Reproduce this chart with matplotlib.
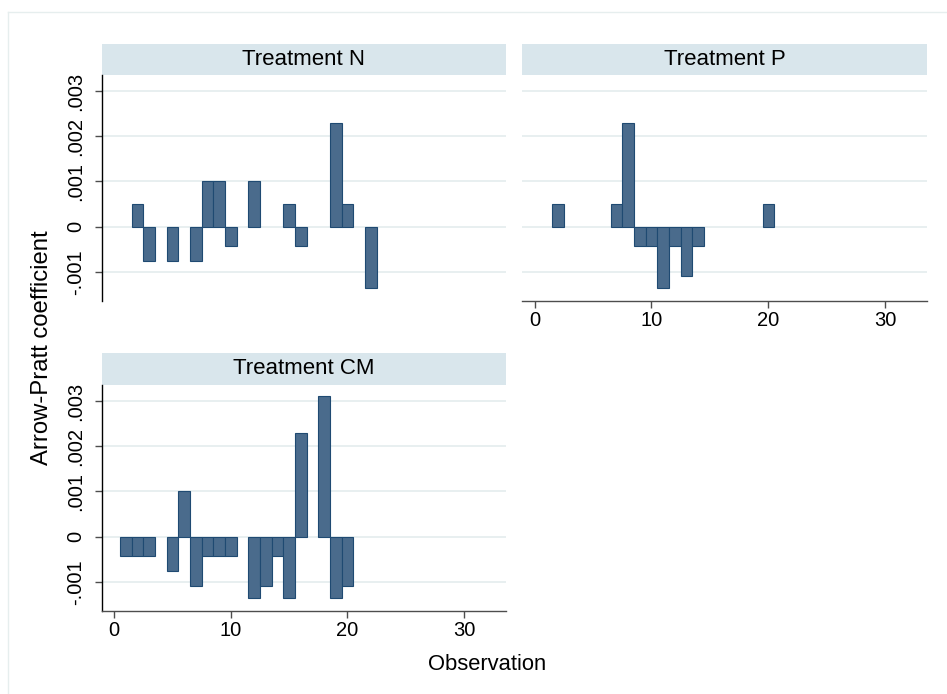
import matplotlib

matplotlib.use("Agg")
import matplotlib.pyplot as plt
from matplotlib.lines import Line2D

# observation index and Arrow-Pratt coefficient per treatment
obs_n = [2, 3, 5, 7, 8, 9, 10, 12, 15, 16, 19, 20, 22]
coef_n = [0.0005, -0.00077, -0.00077, -0.00077, 0.001, 0.001, -0.00042,
          0.001, 0.0005, -0.00042, 0.0023, 0.0005, -0.00136]

obs_p = [2, 7, 8, 9, 10, 11, 12, 13, 14, 20]
coef_p = [0.0005, 0.0005, 0.0023, -0.00042, -0.00042, -0.00136, -0.00042,
          -0.0011, -0.00042, 0.0005]

obs_cm = [1, 2, 3, 5, 6, 7, 8, 9, 10, 12, 13, 14, 15, 16, 18, 19, 20]
coef_cm = [-0.00042, -0.00042, -0.00042, -0.00077, 0.001, -0.0011, -0.00042,
           -0.00042, -0.00042, -0.00136, -0.0011, -0.00042, -0.00136, 0.0023,
           0.0031, -0.00136, -0.0011]

y_ticks = [-0.001, 0, 0.001, 0.002, 0.003]
y_tick_labels = ["-.001", "0", ".001", ".002", ".003"]
x_ticks = [0, 10, 20, 30]

W, H = 947, 694
BAR_COLOR = "#4a6b8c"
EDGE_COLOR = "#1f4a72"
GRID_COLOR = "#e6eeef"
STRIP_COLOR = "#d9e6ec"
AXIS_COLOR = "#4d4d4d"
TICK_SIZE = 14.5

plt.rcParams["font.family"] = ["Liberation Sans", "DejaVu Sans"]


def px_rect(left, top, right, bottom):
    return [left / W, 1 - bottom / H, (right - left) / W, (bottom - top) / H]


def panel(fig, left, top, right, bottom, strip_top, title, xs, ys, show_y, show_x):
    strip = fig.add_axes(px_rect(left, strip_top, right, top))
    strip.set_facecolor(STRIP_COLOR)
    strip.set_xticks([])
    strip.set_yticks([])
    for s in strip.spines.values():
        s.set_visible(False)
    strip.text(0.5, 0.5, title, ha="center", va="center", fontsize=16,
               transform=strip.transAxes)

    ax = fig.add_axes(px_rect(left, top, right, bottom))
    ax.set_xlim(-1.08, 33.6)
    ax.set_ylim(-0.00164, 0.00336)
    for yv in y_ticks:
        ax.axhline(yv, color=GRID_COLOR, lw=1.3, zorder=0)
    ax.bar(xs, ys, width=1.0, color=BAR_COLOR, edgecolor=EDGE_COLOR,
           linewidth=0.8, zorder=2)
    ax.spines["top"].set_visible(False)
    ax.spines["right"].set_visible(False)
    ax.spines["left"].set_visible(show_y)
    ax.spines["bottom"].set_visible(show_x)
    ax.spines["left"].set_color("black")
    ax.spines["bottom"].set_color(AXIS_COLOR)
    ax.spines["left"].set_linewidth(1.0)
    ax.spines["bottom"].set_linewidth(1.0)
    if show_y:
        ax.set_yticks(y_ticks)
        ax.set_yticklabels(y_tick_labels, rotation=90, va="center")
        ax.tick_params(axis="y", length=5, width=1, color=AXIS_COLOR,
                       labelsize=TICK_SIZE, pad=7)
    else:
        ax.set_yticks([])
    if show_x:
        ax.set_xticks(x_ticks)
        ax.tick_params(axis="x", length=5, width=1, color=AXIS_COLOR,
                       labelsize=TICK_SIZE, pad=2.5)
    else:
        ax.set_xticks([])
    return ax


fig = plt.figure(figsize=(W / 100, H / 100), dpi=100)
fig.patch.set_facecolor("white")

# faint outer frame
fig.add_artist(Line2D([8 / W, 8 / W], [0, 1 - 12 / H], color="#e6eeee", lw=1.0))
fig.add_artist(Line2D([8 / W, 1], [1 - 12 / H, 1 - 12 / H], color="#e6eeee", lw=1.0))

panel(fig, 101.7, 74.7, 506, 300.7, 44, "Treatment N", obs_n, coef_n, True, False)
panel(fig, 522, 74.7, 927.3, 300.7, 44, "Treatment P", obs_p, coef_p, False, True)
panel(fig, 101.7, 384.7, 506, 610.7, 353, "Treatment CM", obs_cm, coef_cm, True, True)

fig.text(42 / W, 1 - 348 / H, "Arrow-Pratt coefficient", rotation=90,
         ha="center", va="center", fontsize=17.2)
fig.text(487 / W, 1 - 665 / H, "Observation", ha="center", va="center",
         fontsize=15.8)

fig.savefig("out.png", dpi=100)
